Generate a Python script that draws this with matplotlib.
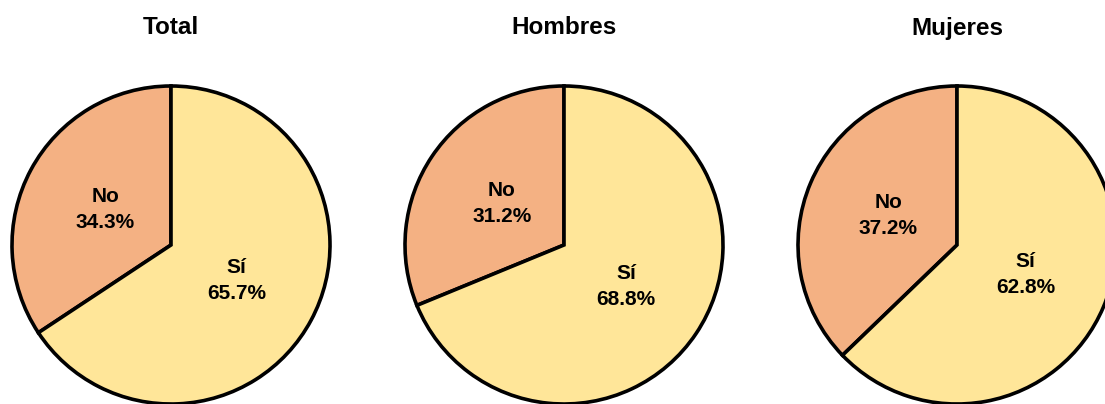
import matplotlib.pyplot as plt
from matplotlib import font_manager

# Data
groups = ['Total', 'Hombres', 'Mujeres']
categories = ['No', 'Sí']
no_pct = [34.3, 31.2, 37.2]
si_pct = [65.7, 68.8, 62.8]

colors = ['#F4B183', '#FFE699']

# Narrow bold font if available
names = {f.name for f in font_manager.fontManager.ttflist}
family = 'Liberation Sans Narrow' if 'Liberation Sans Narrow' in names else 'Liberation Sans'
plt.rcParams['font.family'] = [family, 'DejaVu Sans']

W, H = 1105, 404
fig = plt.figure(figsize=(W / 100, H / 100), dpi=100)

centers_x = [171, 564, 957]
center_y = 245
r = 159

for i, g in enumerate(groups):
    cx = centers_x[i]
    ax = fig.add_axes([(cx - r) / W, (H - center_y - r) / H, 2 * r / W, 2 * r / H])
    vals = [no_pct[i], si_pct[i]]
    labels = [f'{c}\n{v:.1f}%' for c, v in zip(categories, vals)]
    wedges, texts = ax.pie(vals, labels=labels, colors=colors, startangle=90,
                           counterclock=True, labeldistance=0.47, radius=1,
                           wedgeprops=dict(edgecolor='black', linewidth=2.6))
    for t in texts:
        t.set_fontsize(15)
        t.set_fontweight('bold')
        t.set_ha('center')
        t.set_va('center')
        t.set_linespacing(1.45)
    ax.set_xlim(-1.0, 1.0)
    ax.set_ylim(-1.0, 1.0)
    ax.set_aspect('equal')
    fig.text(cx / W, 1 - 28 / H, g, ha='center', va='center',
             fontsize=17.5, fontweight='bold')

fig.savefig('out.png', dpi=100)
